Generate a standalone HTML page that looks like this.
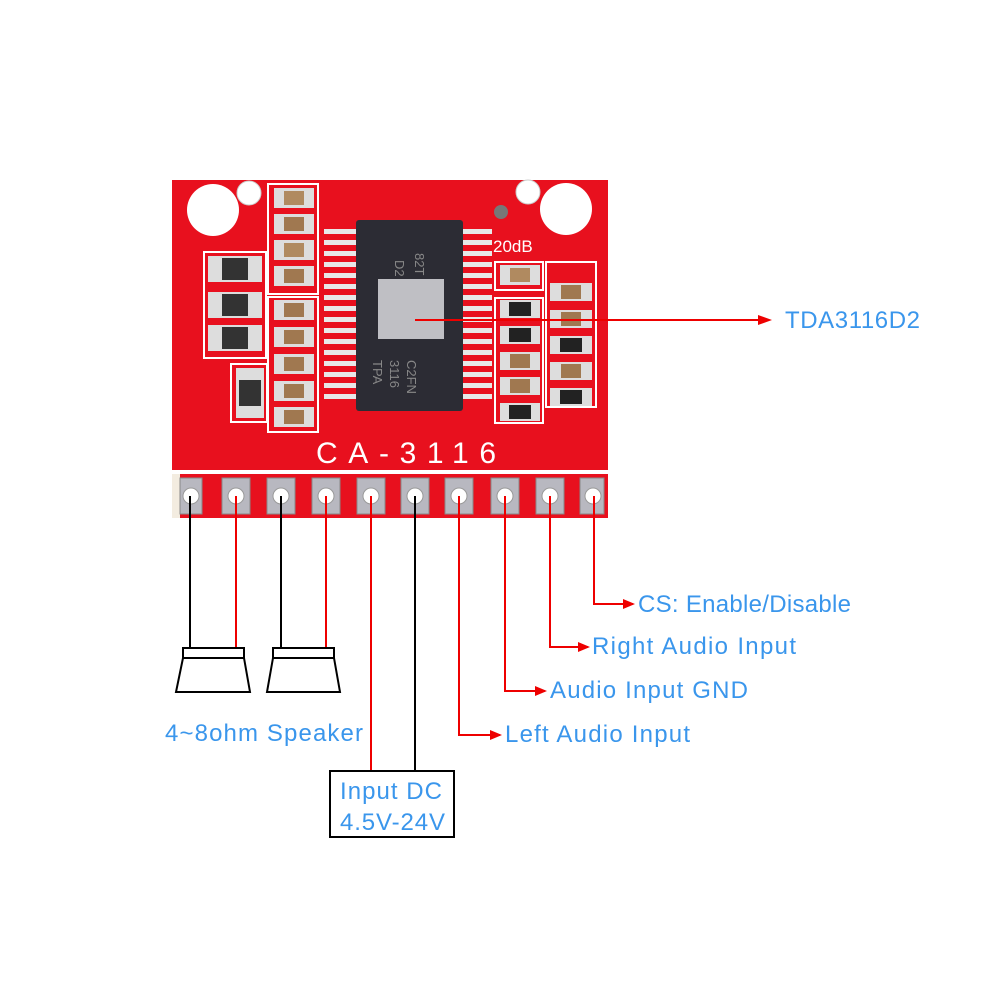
<!DOCTYPE html>
<html><head><meta charset="utf-8"><style>
html,body{margin:0;padding:0;background:#fff;}
svg text{font-family:"Liberation Sans","DejaVu Sans",sans-serif;}
</style></head><body>
<svg width="1000" height="1000" viewBox="0 0 1000 1000" xmlns="http://www.w3.org/2000/svg">
<rect width="1000" height="1000" fill="#fff"/>
<rect x="172" y="180" width="436" height="338" fill="#e8101e"/>
<rect x="172" y="470" width="436" height="4" fill="#fff"/>
<rect x="172" y="474" width="8" height="44" fill="#f3ece0"/>
<circle cx="213" cy="210" r="26" fill="#fff"/>
<circle cx="566" cy="209" r="26" fill="#fff"/>
<circle cx="249" cy="193" r="12" fill="#fff" stroke="#ccc"/>
<circle cx="528" cy="192" r="12" fill="#fff" stroke="#ccc"/>
<circle cx="501" cy="212" r="7" fill="#777"/>
<g fill="none" stroke="#fff" stroke-width="2">
<rect x="268" y="184" width="50" height="110"/>
<rect x="268" y="297" width="50" height="135"/>
<rect x="204" y="252" width="62" height="106"/>
<rect x="231" y="364" width="36" height="58"/>
<rect x="495" y="262" width="48" height="28"/>
<rect x="495" y="298" width="48" height="125"/>
<rect x="546" y="262" width="50" height="145"/>
</g>
<g>
<rect x="274" y="188" width="40" height="20" fill="#ddd"/><rect x="284" y="191" width="20" height="14" fill="#b08a60"/>
<rect x="274" y="214" width="40" height="20" fill="#ddd"/><rect x="284" y="217" width="20" height="14" fill="#a07850"/>
<rect x="274" y="240" width="40" height="20" fill="#ddd"/><rect x="284" y="243" width="20" height="14" fill="#b08a60"/>
<rect x="274" y="266" width="40" height="20" fill="#ddd"/><rect x="284" y="269" width="20" height="14" fill="#a07850"/>
<rect x="274" y="300" width="40" height="20" fill="#ddd"/><rect x="284" y="303" width="20" height="14" fill="#a07850"/>
<rect x="274" y="327" width="40" height="20" fill="#ddd"/><rect x="284" y="330" width="20" height="14" fill="#a07850"/>
<rect x="274" y="354" width="40" height="20" fill="#ddd"/><rect x="284" y="357" width="20" height="14" fill="#a07850"/>
<rect x="274" y="381" width="40" height="20" fill="#ddd"/><rect x="284" y="384" width="20" height="14" fill="#a07850"/>
<rect x="274" y="407" width="40" height="20" fill="#ddd"/><rect x="284" y="410" width="20" height="14" fill="#a07850"/>
<rect x="208" y="256" width="54" height="26" fill="#ddd"/><rect x="222" y="258" width="26" height="22" fill="#333"/>
<rect x="208" y="292" width="54" height="26" fill="#ddd"/><rect x="222" y="294" width="26" height="22" fill="#333"/>
<rect x="208" y="325" width="54" height="26" fill="#ddd"/><rect x="222" y="327" width="26" height="22" fill="#333"/>
<rect x="236" y="368" width="28" height="50" fill="#ddd"/><rect x="239" y="380" width="22" height="26" fill="#333"/>
</g>
<g>
<rect x="500" y="265" width="40" height="20" fill="#ddd"/><rect x="510" y="268" width="20" height="14" fill="#b08a60"/>
<rect x="500" y="300" width="40" height="18" fill="#ddd"/><rect x="509" y="302" width="22" height="14" fill="#222"/>
<rect x="500" y="326" width="40" height="18" fill="#ddd"/><rect x="509" y="328" width="22" height="14" fill="#222"/>
<rect x="500" y="352" width="40" height="18" fill="#ddd"/><rect x="510" y="354" width="20" height="14" fill="#a07850"/>
<rect x="500" y="377" width="40" height="18" fill="#ddd"/><rect x="510" y="379" width="20" height="14" fill="#a07850"/>
<rect x="500" y="403" width="40" height="18" fill="#ddd"/><rect x="509" y="405" width="22" height="14" fill="#222"/>
<rect x="550" y="283" width="42" height="18" fill="#ddd"/><rect x="561" y="285" width="20" height="14" fill="#a07850"/>
<rect x="550" y="310" width="42" height="18" fill="#ddd"/><rect x="561" y="312" width="20" height="14" fill="#a07850"/>
<rect x="550" y="336" width="42" height="18" fill="#ddd"/><rect x="560" y="338" width="22" height="14" fill="#222"/>
<rect x="550" y="362" width="42" height="18" fill="#ddd"/><rect x="561" y="364" width="20" height="14" fill="#a07850"/>
<rect x="550" y="388" width="42" height="18" fill="#ddd"/><rect x="560" y="390" width="22" height="14" fill="#222"/>
</g>
<text x="493" y="252" font-size="17" fill="#fff">20dB</text>
<g fill="#e8e8e8">
<rect x="324" y="229" width="32" height="5"/><rect x="324" y="240" width="32" height="5"/><rect x="324" y="251" width="32" height="5"/><rect x="324" y="262" width="32" height="5"/><rect x="324" y="273" width="32" height="5"/><rect x="324" y="284" width="32" height="5"/><rect x="324" y="295" width="32" height="5"/><rect x="324" y="306" width="32" height="5"/><rect x="324" y="317" width="32" height="5"/><rect x="324" y="328" width="32" height="5"/><rect x="324" y="339" width="32" height="5"/><rect x="324" y="350" width="32" height="5"/><rect x="324" y="361" width="32" height="5"/><rect x="324" y="372" width="32" height="5"/><rect x="324" y="383" width="32" height="5"/><rect x="324" y="394" width="32" height="5"/>
<rect x="460" y="229" width="32" height="5"/><rect x="460" y="240" width="32" height="5"/><rect x="460" y="251" width="32" height="5"/><rect x="460" y="262" width="32" height="5"/><rect x="460" y="273" width="32" height="5"/><rect x="460" y="284" width="32" height="5"/><rect x="460" y="295" width="32" height="5"/><rect x="460" y="306" width="32" height="5"/><rect x="460" y="317" width="32" height="5"/><rect x="460" y="328" width="32" height="5"/><rect x="460" y="339" width="32" height="5"/><rect x="460" y="350" width="32" height="5"/><rect x="460" y="361" width="32" height="5"/><rect x="460" y="372" width="32" height="5"/><rect x="460" y="383" width="32" height="5"/><rect x="460" y="394" width="32" height="5"/>
</g>
<rect x="356" y="220" width="107" height="191" rx="3" fill="#2c2c34"/>
<rect x="378" y="279" width="66" height="60" fill="#bfbfc4"/>
<text x="395" y="260" font-size="13" fill="#888" transform="rotate(90 395 260)">D2</text>
<text x="415" y="253" font-size="13" fill="#888" transform="rotate(90 415 253)">82T</text>
<text x="373" y="360" font-size="13" fill="#888" transform="rotate(90 373 360)">TPA</text>
<text x="390" y="360" font-size="13" fill="#888" transform="rotate(90 390 360)">3116</text>
<text x="407" y="360" font-size="13" fill="#888" transform="rotate(90 407 360)">C2FN</text>
<text x="316" y="463" font-size="30" fill="#fff" textLength="180">CA-3116</text>
<g fill="#b8b8c0" stroke="#888">
<rect x="180" y="478" width="22" height="36"/><rect x="222" y="478" width="28" height="36"/><rect x="267" y="478" width="28" height="36"/><rect x="312" y="478" width="28" height="36"/><rect x="357" y="478" width="28" height="36"/><rect x="401" y="478" width="28" height="36"/><rect x="445" y="478" width="28" height="36"/><rect x="491" y="478" width="28" height="36"/><rect x="536" y="478" width="28" height="36"/><rect x="580" y="478" width="24" height="36"/>
</g>
<g fill="#fff" stroke="#999"><circle cx="191" cy="496" r="8"/><circle cx="236" cy="496" r="8"/><circle cx="281" cy="496" r="8"/><circle cx="326" cy="496" r="8"/><circle cx="371" cy="496" r="8"/><circle cx="415" cy="496" r="8"/><circle cx="459" cy="496" r="8"/><circle cx="505" cy="496" r="8"/><circle cx="550" cy="496" r="8"/><circle cx="593" cy="496" r="8"/></g>
<g fill="none" stroke-width="2">
<line x1="190" y1="496" x2="190" y2="648" stroke="#000"/>
<line x1="236" y1="496" x2="236" y2="648" stroke="#e00"/>
<line x1="281" y1="496" x2="281" y2="648" stroke="#000"/>
<line x1="326" y1="496" x2="326" y2="648" stroke="#e00"/>
<line x1="371" y1="496" x2="371" y2="771" stroke="#e00"/>
<line x1="415" y1="496" x2="415" y2="771" stroke="#000"/>
<polyline points="459,496 459,735 500,735" stroke="#e00"/>
<polyline points="505,496 505,691 545,691" stroke="#e00"/>
<polyline points="550,496 550,647 588,647" stroke="#e00"/>
<polyline points="594,496 594,604 633,604" stroke="#e00"/>
<line x1="415" y1="320" x2="768" y2="320" stroke="#e00"/>
</g>
<g fill="#e00">
<polygon points="502,735 490,730 490,740"/>
<polygon points="547,691 535,686 535,696"/>
<polygon points="590,647 578,642 578,652"/>
<polygon points="635,604 623,599 623,609"/>
<polygon points="772,320 758,315 758,325"/>
</g>
<g fill="#fff" stroke="#000" stroke-width="2">
<rect x="183" y="648" width="61" height="10"/>
<polygon points="183,658 244,658 250,692 176,692"/>
<rect x="273" y="648" width="61" height="10"/>
<polygon points="273,658 334,658 340,692 267,692"/>
<rect x="330" y="771" width="124" height="66"/>
</g>
<g fill="#3a96ec" font-size="24">
<text x="785" y="328" textLength="135">TDA3116D2</text>
<text x="638" y="612" textLength="213">CS: Enable/Disable</text>
<text x="592" y="654" textLength="204">Right Audio Input</text>
<text x="550" y="698" textLength="198">Audio Input GND</text>
<text x="505" y="742" textLength="185">Left Audio Input</text>
<text x="165" y="741" textLength="198">4~8ohm Speaker</text>
<text x="340" y="799" textLength="102">Input DC</text>
<text x="340" y="830" textLength="105">4.5V-24V</text>
</g>
</svg>
</body></html>
